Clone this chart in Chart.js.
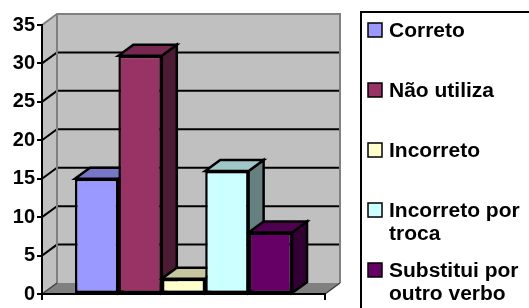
<!DOCTYPE html>
<html>
<head>
<meta charset="utf-8">
<script src="https://cdn.jsdelivr.net/npm/chart.js@4/dist/chart.umd.min.js"></script>
<style>
  body { margin: 0; background: #fff; }
  #wrap { width: 529px; height: 308px; position: relative; }
</style>
</head>
<body>
<div id="wrap"><canvas id="chart"></canvas></div>
<script>
const categories = [''];
const seriesNames = ['Correto', 'Não utiliza', 'Incorreto', 'Incorreto por troca', 'Substitui por outro verbo'];
const seriesValues = [15, 31, 2, 16, 8];
const seriesColors = ['#9999ff', '#993366', '#ffffcc', '#ccffff', '#660066'];
const yMax = 35;
const yStep = 5;

const FONT = '"Liberation Sans", Arial, sans-serif';
const DX = 15, DY = 11;

function shade(hex, f) {
  const n = parseInt(hex.slice(1), 16);
  const r = Math.round(((n >> 16) & 255) * f);
  const g = Math.round(((n >> 8) & 255) * f);
  const b = Math.round((n & 255) * f);
  return 'rgb(' + r + ',' + g + ',' + b + ')';
}

function poly(ctx, pts, fill, stroke, lw) {
  ctx.beginPath();
  ctx.moveTo(pts[0][0], pts[0][1]);
  for (let i = 1; i < pts.length; i++) ctx.lineTo(pts[i][0], pts[i][1]);
  ctx.closePath();
  if (fill) { ctx.fillStyle = fill; ctx.fill(); }
  if (stroke) { ctx.strokeStyle = stroke; ctx.lineWidth = lw; ctx.stroke(); }
}

// walls, floor and gridlines
const walls = {
  id: 'walls',
  beforeDraw(chart) {
    const ctx = chart.ctx;
    const { left, right, top, bottom } = chart.chartArea;
    const ys = chart.scales.y;
    ctx.save();
    ctx.lineJoin = 'miter';
    // side wall + back wall
    poly(ctx, [[left, top], [left + DX, top - DY], [left + DX, bottom - DY], [left, bottom]], '#c0c0c0', null);
    poly(ctx, [[left + DX, top - DY], [right + DX, top - DY], [right + DX, bottom - DY], [left + DX, bottom - DY]], '#c0c0c0', null);
    // gridlines: diagonal on side wall, straight on back wall
    ctx.strokeStyle = '#000';
    ctx.lineWidth = 2;
    ys.ticks.forEach(t => {
      if (t.value <= 0 || t.value >= yMax) return;
      const y = ys.getPixelForValue(t.value);
      ctx.beginPath();
      ctx.moveTo(left, y);
      ctx.lineTo(left + DX, y - DY);
      ctx.lineTo(right + DX, y - DY);
      ctx.stroke();
    });
    // wall edges
    ctx.strokeStyle = '#808080';
    ctx.beginPath();
    ctx.moveTo(left, top);
    ctx.lineTo(left + DX, top - DY);
    ctx.lineTo(right + DX, top - DY);
    ctx.lineTo(right + DX, bottom - DY);
    ctx.moveTo(left + DX, top - DY);
    ctx.lineTo(left + DX, bottom - DY);
    ctx.stroke();
    // floor
    poly(ctx, [[left, bottom], [left + DX, bottom - DY], [right + DX, bottom - DY], [right, bottom]], '#808080', null);
    ctx.strokeStyle = '#404040';
    ctx.lineWidth = 1.5;
    ctx.beginPath();
    ctx.moveTo(right, bottom);
    ctx.lineTo(right + DX, bottom - DY);
    ctx.moveTo(left, bottom);
    ctx.lineTo(left + DX, bottom - DY);
    ctx.stroke();
    ctx.restore();
  }
};

// top and side faces of the columns
const columns3d = {
  id: 'columns3d',
  beforeDatasetsDraw(chart) {
    const ctx = chart.ctx;
    ctx.save();
    ctx.lineJoin = 'miter';
    chart.data.datasets.forEach((ds, i) => {
      const meta = chart.getDatasetMeta(i);
      meta.data.forEach(bar => {
        const p = bar.getProps(['x', 'y', 'base', 'width'], true);
        const x0 = p.x - p.width / 2, x1 = p.x + p.width / 2;
        const y = p.y, b = p.base;
        poly(ctx, [[x1, y], [x1 + DX, y - DY], [x1 + DX, b - DY], [x1, b]], shade(ds.backgroundColor, 0.5), '#000', 2.5);
        poly(ctx, [[x0, y], [x0 + DX, y - DY], [x1 + DX, y - DY], [x1, y]], shade(ds.backgroundColor, 0.78), '#000', 2.5);
      });
    });
    ctx.restore();
  }
};

// boxed legend on the right
const boxLegend = {
  id: 'boxLegend',
  afterDraw(chart) {
    const ctx = chart.ctx;
    const firstRow = 30, rowStep = 60, lineH = 23;
    const sx = 1.05;
    const textX = 389, maxW = 136;
    ctx.save();
    ctx.strokeStyle = '#000';
    ctx.lineWidth = 2;
    ctx.strokeRect(361, 12, 220, 330);
    ctx.font = 'bold 20px ' + FONT;
    ctx.textBaseline = 'middle';
    chart.data.datasets.forEach((ds, i) => {
      const cy = firstRow + i * rowStep;
      ctx.fillStyle = ds.backgroundColor;
      ctx.fillRect(368, cy - 7, 14, 14);
      ctx.lineWidth = 1.5;
      ctx.strokeRect(368, cy - 7, 14, 14);
      // wrap label
      const words = ds.label.split(' ');
      const lines = [];
      let cur = '';
      words.forEach(w => {
        const t = cur ? cur + ' ' + w : w;
        if (ctx.measureText(t).width * sx > maxW && cur) { lines.push(cur); cur = w; }
        else cur = t;
      });
      lines.push(cur);
      ctx.fillStyle = '#000';
      lines.forEach((ln, k) => {
        ctx.save();
        ctx.translate(textX, cy + 1 + k * lineH);
        ctx.scale(sx, 1);
        ctx.fillText(ln, 0, 0);
        ctx.restore();
      });
    });
    ctx.restore();
  }
};

new Chart(document.getElementById('chart'), {
  type: 'bar',
  data: {
    labels: categories,
    datasets: seriesNames.map((name, i) => ({
      label: name,
      data: [seriesValues[i]],
      backgroundColor: seriesColors[i],
      borderColor: '#000',
      borderWidth: 2.5,
      borderSkipped: false
    }))
  },
  plugins: [walls, columns3d, boxLegend],
  options: {
    responsive: true,
    maintainAspectRatio: false,
    animation: false,
    datasets: {
      bar: { categoryPercentage: 0.767, barPercentage: 1 }
    },
    layout: {
      padding: { top: 25, right: 204, bottom: 0, left: 0 }
    },
    plugins: {
      legend: { display: false },
      tooltip: { enabled: false }
    },
    scales: {
      x: {
        afterFit: s => { s.height = 11; },
        ticks: { display: false },
        grid: { drawOnChartArea: false, drawTicks: true, tickLength: 6, color: '#000', lineWidth: 2 },
        border: { color: '#000', width: 2 }
      },
      y: {
        min: 0,
        max: yMax,
        afterFit: s => { s.width = 42; },
        ticks: {
          stepSize: yStep,
          color: '#000',
          padding: 2,
          font: { family: FONT, size: 20, weight: 'bold' }
        },
        grid: { drawOnChartArea: false, drawTicks: true, tickLength: 5, color: '#000', lineWidth: 2 },
        border: { color: '#000', width: 2 }
      }
    }
  }
});
</script>
</body>
</html>
